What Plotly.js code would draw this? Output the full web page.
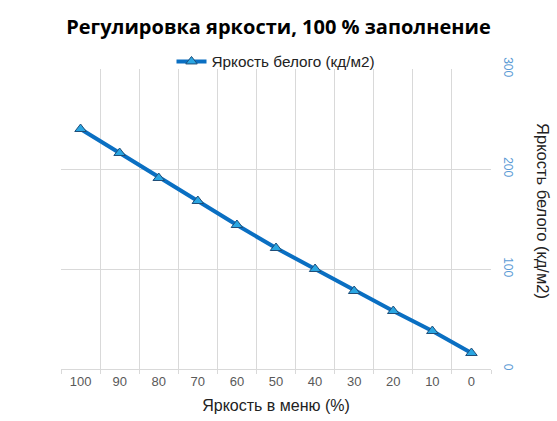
<!DOCTYPE html>
<html>
<head>
<meta charset="utf-8">
<script src="https://cdn.plot.ly/plotly-3.0.1.min.js"></script>
<style>html,body{margin:0;padding:0;background:#fff;}#chart{width:557px;height:421px;}</style>
</head>
<body>
<div id="chart"></div>
<script>
const menuLevels = ['100','90','80','70','60','50','40','30','20','10','0'];
const whiteLuminance = [240, 216, 191, 168, 144, 121, 100, 78, 58, 38, 16];
const seriesName = 'Яркость белого (кд/м2)';
const yTicks = [0, 100, 200, 300];

const trace = {
  x: menuLevels,
  y: whiteLuminance,
  type: 'scatter',
  mode: 'lines+markers',
  name: seriesName,
  line: {color: '#0a6fc2', width: 4},
  marker: {symbol: 'triangle-up', size: 10, color: '#2aa6e2', line: {color: '#1f4e79', width: 1}}
};

const layout = {
  width: 557, height: 421,
  margin: {l: 61, r: 66, t: 69, b: 52},
  paper_bgcolor: '#fff', plot_bgcolor: '#fff',
  font: {family: 'Liberation Sans, Arial, sans-serif', color: '#595959'},
  title: {text: '<b>Регулировка яркости, 100 % заполнение</b>', x: 0.5, xanchor: 'center', y: 0.936, yanchor: 'middle',
    font: {family: 'Open Sans, Noto Sans, sans-serif', size: 20, color: '#000'}},
  showlegend: true,
  legend: {orientation: 'h', x: 0.5, xanchor: 'center', y: 1.025, yanchor: 'middle',
    font: {size: 15.3, color: '#222'}, bgcolor: 'rgba(0,0,0,0)'},
  xaxis: {
    type: 'category',
    range: [-0.5, 10.5],
    tickson: 'boundaries',
    ticks: 'outside', ticklen: 4, tickcolor: '#d9d9d9',
    showgrid: true, gridcolor: '#d9d9d9', gridwidth: 1,
    showline: true, linecolor: '#d9d9d9',
    tickfont: {size: 13, color: '#595959'},
    title: {text: 'Яркость в меню (%)', font: {size: 16, color: '#222'}, standoff: 12},
    zeroline: false
  },
  yaxis: {
    side: 'right',
    range: [0, 300], tickvals: yTicks,
    showgrid: true, gridcolor: '#d9d9d9', gridwidth: 1,
    zeroline: false, showline: false,
    tickangle: 90,
    tickfont: {size: 12, color: '#5b9bd5'},
    ticklabelstandoff: 10
  },
  annotations: [{
    text: seriesName, textangle: 90,
    xref: 'paper', yref: 'paper', x: 1.122, y: 0.525, xanchor: 'center', yanchor: 'middle',
    showarrow: false, font: {size: 16.5, color: '#222'}
  }]
};

Plotly.newPlot('chart', [trace], layout, {displayModeBar: false, staticPlot: true});
</script>
</body>
</html>
